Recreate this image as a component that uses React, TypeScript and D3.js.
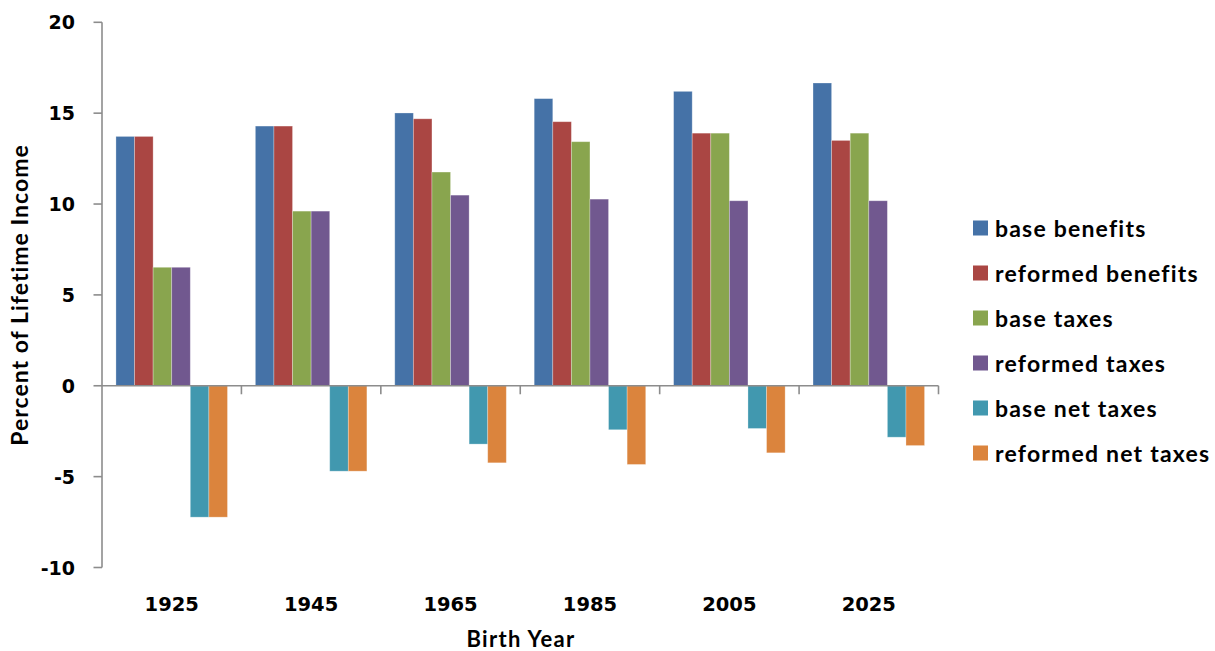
import React from "react";
import * as d3 from "d3";

const years = ["1925", "1945", "1965", "1985", "2005", "2025"];
const seriesNames = [
  "base benefits",
  "reformed benefits",
  "base taxes",
  "reformed taxes",
  "base net taxes",
  "reformed net taxes",
];
const baseBenefits = [13.72, 14.29, 15.01, 15.8, 16.2, 16.66];
const reformedBenefits = [13.72, 14.29, 14.69, 14.53, 13.9, 13.5];
const baseTaxes = [6.52, 9.61, 11.76, 13.43, 13.9, 13.9];
const reformedTaxes = [6.52, 9.61, 10.49, 10.27, 10.18, 10.18];
const baseNetTaxes = [-7.23, -4.7, -3.21, -2.42, -2.35, -2.83];
const reformedNetTaxes = [-7.23, -4.7, -4.24, -4.33, -3.69, -3.29];
const yTicks = [-10, -5, 0, 5, 10, 15, 20];
const colors = ["#4572A7", "#AA4643", "#89A54E", "#71588F", "#4198AF", "#DB843D"];

const seriesValues = [
  baseBenefits,
  reformedBenefits,
  baseTaxes,
  reformedTaxes,
  baseNetTaxes,
  reformedNetTaxes,
];

const W = 1215;
const H = 651;
const plotLeft = 102;
const plotRight = 938.5;
const plotTop = 22.3;
const plotBottom = 567.5;
const textFont = "Lato, 'Open Sans', sans-serif";
const numFont = "'DejaVu Sans', Verdana, sans-serif";
const axisColor = "#8c8c8c";

export default function App() {
  const x = d3.scaleBand<string>().domain(years).range([plotLeft, plotRight]).padding(0);
  const inner = d3
    .scaleBand<string>()
    .domain(seriesNames)
    .range([0, x.bandwidth()])
    .paddingInner(0)
    .paddingOuter(0.75);
  const y = d3.scaleLinear().domain([-10, 20]).range([plotBottom, plotTop]);
  const y0 = y(0);

  return (
    <svg
      width={W}
      height={H}
      style={{ position: "absolute", left: 0, top: 0, background: "#fff" }}
      fontFamily={textFont}
    >
      {/* bars */}
      {seriesNames.map((name, si) =>
        years.map((yr, ci) => {
          const v = seriesValues[si][ci];
          const bx = (x(yr) as number) + (inner(name) as number);
          const top = Math.min(y(v), y0);
          const h = Math.abs(y(v) - y0);
          return (
            <rect
              key={name + yr}
              x={bx}
              y={top}
              width={inner.bandwidth()}
              height={h}
              fill={colors[si]}
              stroke="rgba(255,255,255,0.35)"
              strokeWidth={0.8}
            />
          );
        })
      )}

      {/* y axis */}
      <line x1={plotLeft} x2={plotLeft} y1={plotTop} y2={plotBottom} stroke={axisColor} strokeWidth={1.6} />
      {yTicks.map((t) => (
        <g key={t}>
          <line x1={plotLeft - 8.5} x2={plotLeft} y1={y(t)} y2={y(t)} stroke={axisColor} strokeWidth={1.6} />
          <text
            x={75}
            y={y(t)}
            textAnchor="end"
            dominantBaseline="central"
            fontFamily={numFont}
            fontSize={19}
            fontWeight={700}
            fill="#000"
          >
            {t}
          </text>
        </g>
      ))}

      {/* x axis along zero */}
      <line x1={plotLeft} x2={plotRight} y1={y0} y2={y0} stroke={axisColor} strokeWidth={1.6} />
      {years.map((yr) => (
        <line
          key={"tk" + yr}
          x1={(x(yr) as number) + x.bandwidth()}
          x2={(x(yr) as number) + x.bandwidth()}
          y1={y0}
          y2={y0 + 8.5}
          stroke={axisColor}
          strokeWidth={1.6}
        />
      ))}
      {years.map((yr) => (
        <text
          key={"lb" + yr}
          x={(x(yr) as number) + x.bandwidth() / 2}
          y={604}
          textAnchor="middle"
          dominantBaseline="central"
          fontFamily={numFont}
          fontSize={19.5}
          fontWeight={700}
          fill="#000"
        >
          {yr}
        </text>
      ))}

      {/* axis titles */}
      <text
        x={521}
        y={638}
        textAnchor="middle"
        dominantBaseline="central"
        fontSize={22}
        fontWeight={700}
        letterSpacing={1.3}
        fill="#000"
      >
        Birth Year
      </text>
      <text
        transform={`translate(19, 295) rotate(-90)`}
        textAnchor="middle"
        dominantBaseline="central"
        fontSize={23}
        fontWeight={700}
        letterSpacing={1}
        fill="#000"
      >
        Percent of Lifetime Income
      </text>

      {/* legend */}
      {seriesNames.map((name, i) => {
        const cy = 228 + i * 45;
        return (
          <g key={"lg" + name}>
            <rect x={973} y={cy - 7.5} width={15} height={15} fill={colors[i]} />
            <text
              x={995}
              y={cy}
              dominantBaseline="central"
              fontSize={23}
              fontWeight={700}
              letterSpacing={1.2}
              fill="#000"
            >
              {name}
            </text>
          </g>
        );
      })}
    </svg>
  );
}
